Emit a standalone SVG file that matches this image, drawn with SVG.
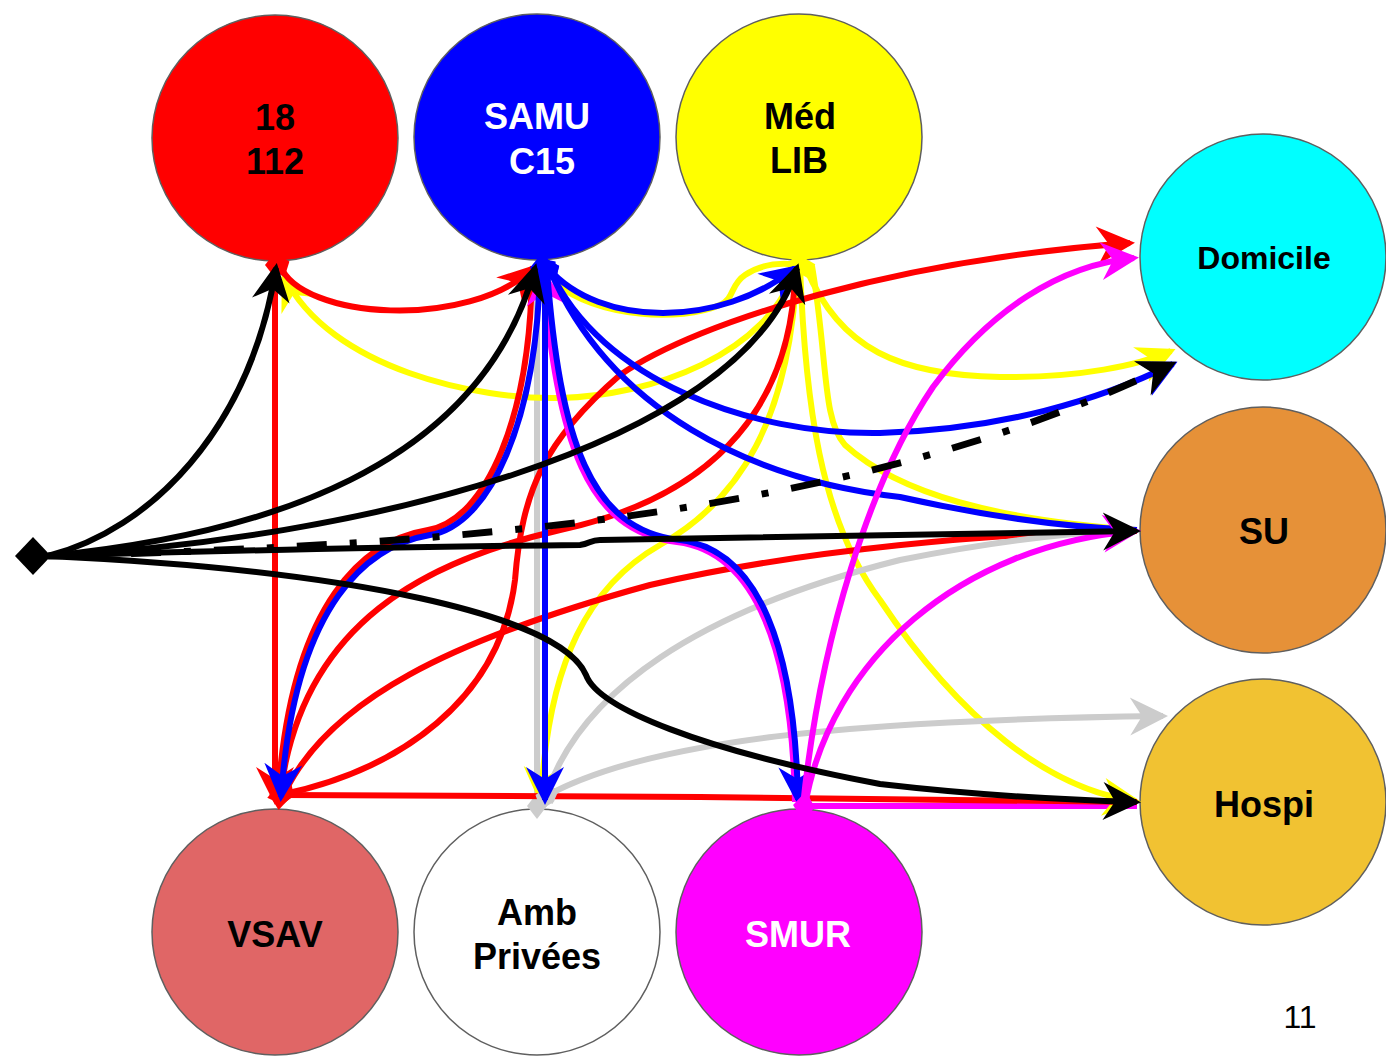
<svg xmlns="http://www.w3.org/2000/svg" width="1386" height="1058" viewBox="0 0 1386 1058">
<style>
.node circle{stroke:#5f5f5f;stroke-width:1.5}
.lbl{font-family:"Liberation Sans",Arial,sans-serif;font-weight:bold;font-size:36px;text-anchor:middle}
.c path{fill:none;stroke-width:6}
.k{stroke:#000}.r{stroke:#f00}.b{stroke:#00f}.y{stroke:#ff0}.g{stroke:#ccc}.m{stroke:#f0f}
</style>
<defs>
<marker id="ak" markerUnits="userSpaceOnUse" orient="auto" markerWidth="1" markerHeight="1" style="overflow:visible"><path d="M5,0 L-33,-19 L-21,0 L-33,19 Z" fill="#000"/></marker>
<marker id="ar" markerUnits="userSpaceOnUse" orient="auto" markerWidth="1" markerHeight="1" style="overflow:visible"><path d="M5,0 L-33,-19 L-21,0 L-33,19 Z" fill="#f00"/></marker>
<marker id="ab" markerUnits="userSpaceOnUse" orient="auto" markerWidth="1" markerHeight="1" style="overflow:visible"><path d="M5,0 L-33,-19 L-21,0 L-33,19 Z" fill="#00f"/></marker>
<marker id="ay" markerUnits="userSpaceOnUse" orient="auto" markerWidth="1" markerHeight="1" style="overflow:visible"><path d="M5,0 L-33,-19 L-21,0 L-33,19 Z" fill="#ff0"/></marker>
<marker id="ag" markerUnits="userSpaceOnUse" orient="auto" markerWidth="1" markerHeight="1" style="overflow:visible"><path d="M5,0 L-33,-19 L-21,0 L-33,19 Z" fill="#ccc"/></marker>
<marker id="am" markerUnits="userSpaceOnUse" orient="auto" markerWidth="1" markerHeight="1" style="overflow:visible"><path d="M5,0 L-33,-19 L-21,0 L-33,19 Z" fill="#f0f"/></marker>
<marker id="dr" markerUnits="userSpaceOnUse" orient="auto" markerWidth="1" markerHeight="1" style="overflow:visible"><path d="M-13,0 L0,-10 L13,0 L0,10 Z" fill="#f00"/></marker>
<marker id="db" markerUnits="userSpaceOnUse" orient="auto" markerWidth="1" markerHeight="1" style="overflow:visible"><path d="M-13,0 L0,-10 L13,0 L0,10 Z" fill="#00f"/></marker>
<marker id="dy" markerUnits="userSpaceOnUse" orient="auto" markerWidth="1" markerHeight="1" style="overflow:visible"><path d="M-13,0 L0,-10 L13,0 L0,10 Z" fill="#ff0"/></marker>
<marker id="dg" markerUnits="userSpaceOnUse" orient="auto" markerWidth="1" markerHeight="1" style="overflow:visible"><path d="M-13,0 L0,-10 L13,0 L0,10 Z" fill="#ccc"/></marker>
<marker id="dm" markerUnits="userSpaceOnUse" orient="auto" markerWidth="1" markerHeight="1" style="overflow:visible"><path d="M-13,0 L0,-10 L13,0 L0,10 Z" fill="#f0f"/></marker>
</defs>
<rect width="1386" height="1058" fill="#fff"/>

<g id="n18" class="node"><circle cx="275" cy="138" r="123" fill="#f00"/><text class="lbl" x="275" y="130" fill="#000">18</text><text class="lbl" x="275" y="174" fill="#000">112</text></g>
<g id="nSAMU" class="node"><circle cx="537" cy="137" r="123" fill="#00f"/><text class="lbl" x="537" y="129" fill="#fff">SAMU</text><text class="lbl" x="542" y="174" fill="#fff">C15</text></g>
<g id="nMED" class="node"><circle cx="799" cy="137" r="123" fill="#ff0"/><text class="lbl" x="800" y="129" fill="#000">Méd</text><text class="lbl" x="799" y="173" fill="#000">LIB</text></g>
<g id="nDOM" class="node"><circle cx="1263" cy="257" r="123" fill="#0ff"/><text class="lbl" x="1264" y="269" fill="#000" style="font-size:32px">Domicile</text></g>
<g id="nSU" class="node"><circle cx="1263" cy="530" r="123" fill="#e69138"/><text class="lbl" x="1264" y="544" fill="#000">SU</text></g>
<g id="nHOSPI" class="node"><circle cx="1263" cy="802" r="123" fill="#f1c232"/><text class="lbl" x="1264" y="817" fill="#000">Hospi</text></g>
<g id="nVSAV" class="node"><circle cx="275" cy="932" r="123" fill="#e06666"/><text class="lbl" x="275" y="947" fill="#000">VSAV</text></g>
<g id="nAMB" class="node"><circle cx="537" cy="932" r="123" fill="#fff"/><text class="lbl" x="537" y="925" fill="#000">Amb</text><text class="lbl" x="537" y="969" fill="#000">Privées</text></g>
<g id="nSMUR" class="node"><circle cx="799" cy="932" r="123" fill="#f0f"/><text class="lbl" x="798" y="947" fill="#fff">SMUR</text></g>

<g id="connectors" class="c">
<path class="g" d="M537,806 L537,275" marker-start="url(#dg)"/>
<path class="m" d="M810,806 L1137,806"/>
<path class="y" d="M796,266 C770,355 650,396 560,398 C480,400 330,370 284,276" marker-start="url(#dy)" marker-end="url(#ay)"/>
<path class="y" d="M790,264 C775,263 760,265 745,275 C730,285 735,298 720,305 C680,322 600,318 556,284"/>
<path class="y" d="M797,266 C790,420 740,500 660,545 C590,585 548,660 541,800" marker-start="url(#dy)" marker-end="url(#ay)"/>
<path class="y" d="M800,266 C805,400 820,520 880,600 C960,720 1050,790 1136,801" marker-start="url(#dy)" marker-end="url(#ay)"/>
<path class="y" d="M806,268 C840,350 900,375 1000,377 C1080,378 1140,365 1171,351" marker-start="url(#dy)" marker-end="url(#ay)"/>
<path class="y" d="M812,266 C828,360 822,420 845,445 C900,495 1000,520 1136,530"/>
<path class="r" d="M275,265 L275,800" marker-start="url(#dr)" marker-end="url(#ar)"/>
<path class="r" d="M280,265 C300,320 470,330 533,268" marker-start="url(#dr)" marker-end="url(#ar)"/>
<path class="r" d="M278,797 C291,598 367,540 428,530 C486,520 531,418 532,268"/>
<path class="r" d="M280,797 C300,620 430,560 560,530 C700,500 790,420 795,275" marker-start="url(#dr)"/>
<path class="r" d="M280,795 C400,770 500,700 515,580 C522,490 545,440 620,375 C700,320 900,260 1130,243" marker-start="url(#dr)" marker-end="url(#ar)"/>
<path class="r" d="M285,792 C330,700 450,640 650,585 C800,550 1000,532 1137,531" marker-start="url(#dr)"/>
<path class="r" d="M282,795 L700,797 L1137,802" marker-start="url(#dr)"/>
<path class="g" d="M545,798 C580,690 700,610 900,560 C1000,540 1080,532 1137,530" marker-start="url(#dg)"/>
<path class="g" d="M548,795 C650,740 850,720 1163,716" marker-start="url(#dg)" marker-end="url(#ag)"/>
<path class="m" d="M795,802 C792,652 757,552 677,542 C587,532 557,442 543,272" marker-end="url(#am)"/>
<path class="b" d="M548,268 C600,328 720,328 795,268" marker-start="url(#db)" marker-end="url(#ab)"/>
<path class="b" d="M540,268 C537,420 490,525 430,535 C370,545 295,600 281,797" marker-start="url(#db)" marker-end="url(#ab)"/>
<path class="b" d="M545,268 L545,800" marker-end="url(#ab)"/>
<path class="b" d="M547,270 C560,440 590,530 680,540 C760,550 795,650 798,800" marker-start="url(#db)" marker-end="url(#ab)"/>
<path class="b" d="M550,270 C600,380 750,435 880,433 C1000,430 1100,400 1173,364" marker-start="url(#db)" marker-end="url(#ab)"/>
<path class="b" d="M550,270 C610,410 750,480 900,497 C980,515 1060,527 1137,530" marker-start="url(#db)"/>
<path class="m" d="M803,806 C820,640 870,480 933,387 C990,310 1060,265 1134,258" marker-start="url(#dm)" marker-end="url(#am)"/>
<path class="m" d="M805,806 C830,660 960,545 1136,531" marker-start="url(#dm)" marker-end="url(#am)"/>
<path class="k" d="M48,556 C150,530 250,430 276,268" marker-end="url(#ak)"/>
<path class="k" d="M48,556 C260,535 480,470 535,268" marker-end="url(#ak)"/>
<path class="k" d="M48,556 C350,540 740,450 797,268" marker-end="url(#ak)"/>
<path class="k" d="M48,556 C450,545 850,520 1172,364" style="stroke-width:7;stroke-dasharray:30 23 7 23" marker-end="url(#ak)"/>
<path class="k" d="M48,556 Q300,548 580,545 C590,544 590,540 600,540 Q900,534 1136,531" marker-end="url(#ak)"/>
<path class="k" d="M48,556 C350,570 560,615 586,675 C598,708 700,750 880,784 Q1000,798 1136,802" marker-end="url(#ak)"/>
<polygon points="15,556 33,537 51,556 33,575" fill="#000"/>
</g>
<text x="1300" y="1028" style="font-family:'Liberation Sans',Arial,sans-serif;font-size:32px;text-anchor:middle" fill="#000">11</text>
</svg>
